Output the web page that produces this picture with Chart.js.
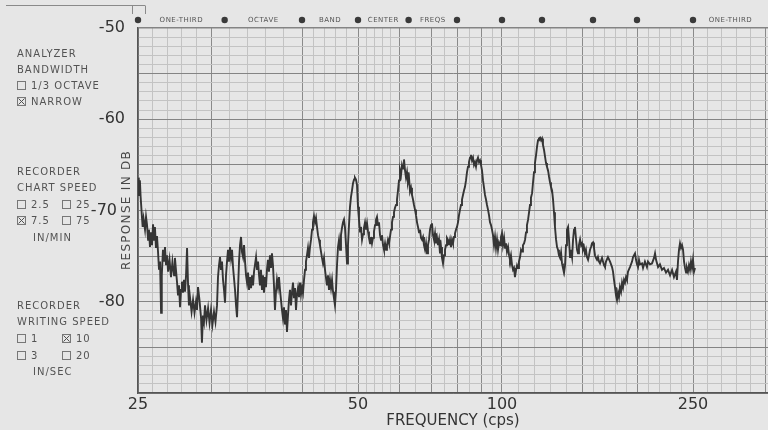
<!DOCTYPE html>
<html><head><meta charset="utf-8">
<script src="https://cdn.jsdelivr.net/npm/chart.js@4/dist/chart.umd.min.js"></script>
<style>html,body{margin:0;padding:0;background:#e6e6e6;overflow:hidden}</style>
</head><body>
<canvas id="c" width="768" height="430"></canvas>
<script>
// ---- data ----
const FREQ_CPS = [25.0,25.05,25.09,25.13,25.18,25.27,25.32,25.38,25.48,25.55,25.62,25.69,25.75,25.82,25.89,25.96,26.03,26.10,26.16,26.23,26.30,26.37,26.44,26.51,26.58,26.63,26.71,26.78,26.85,26.92,26.99,27.06,27.16,27.26,27.36,27.47,27.53,27.60,27.67,27.74,27.81,27.88,27.95,28.01,28.08,28.15,28.22,28.29,28.36,28.43,28.49,28.56,28.67,28.77,28.87,28.97,29.04,29.11,29.21,29.32,29.38,29.45,29.52,29.59,29.69,29.80,29.90,30.00,30.16,30.33,30.49,30.66,30.77,30.88,30.99,31.10,31.21,31.32,31.43,31.54,31.65,31.76,31.87,31.98,32.09,32.20,32.31,32.42,32.64,32.75,32.86,32.97,33.08,33.19,33.30,33.41,33.52,33.63,33.74,33.85,33.96,34.07,34.18,34.29,34.40,34.51,34.62,34.73,34.84,34.95,35.06,35.17,35.28,35.38,35.49,35.60,35.71,35.82,35.93,36.04,36.15,36.26,36.37,36.48,36.59,36.70,36.81,36.92,37.03,37.14,37.25,37.36,37.47,37.58,37.69,37.80,37.91,38.02,38.13,38.24,38.35,38.46,38.57,38.68,38.79,38.90,39.01,39.12,39.23,39.34,39.45,39.56,39.67,39.78,39.89,40.00,40.18,40.36,40.54,40.71,40.89,41.07,41.25,41.43,41.61,41.79,41.96,42.14,42.32,42.50,42.68,42.86,43.04,43.21,43.39,43.57,43.75,43.93,44.11,44.29,44.46,44.64,44.82,45.00,45.18,45.36,45.54,45.71,45.89,46.07,46.25,46.43,46.61,46.79,46.96,47.14,47.32,47.50,47.68,47.86,48.04,48.21,48.39,48.57,48.75,48.93,49.11,49.29,49.46,49.64,49.82,50.00,50.24,50.49,50.73,50.98,51.22,51.46,51.71,51.95,52.20,52.44,52.68,52.93,53.17,53.41,53.66,53.90,54.15,54.39,54.63,54.88,55.12,55.37,55.61,55.85,56.10,56.34,56.59,56.83,57.07,57.32,57.56,57.80,58.05,58.29,58.54,58.78,59.02,59.27,59.51,59.76,60.00,60.31,60.63,60.94,61.25,61.56,61.88,62.19,62.50,62.81,63.13,63.44,63.75,64.06,64.38,64.69,65.00,65.31,65.63,65.94,66.25,66.56,66.88,67.19,67.50,67.81,68.13,68.44,68.75,69.06,69.38,69.69,70.00,70.38,70.77,71.15,71.54,71.92,72.31,72.69,73.08,73.46,73.85,74.23,74.62,75.00,75.38,75.77,76.15,76.54,76.92,77.31,77.69,78.08,78.46,78.85,79.23,79.62,80.00,80.40,80.80,81.20,81.60,82.00,82.40,82.80,83.20,83.60,84.00,84.40,84.80,85.20,85.60,86.00,86.40,86.80,87.20,87.60,88.00,88.40,88.80,89.20,89.60,90.00,90.50,91.00,91.50,92.00,92.50,93.00,93.50,94.00,94.50,95.00,95.50,96.00,96.50,97.00,97.50,98.00,98.50,99.00,99.50,100.0,100.6,101.3,101.9,102.5,103.1,103.8,104.4,105.0,105.6,106.3,106.9,107.5,108.1,108.8,109.4,110.0,110.6,111.3,111.9,112.5,113.1,113.8,114.4,115.0,115.6,116.3,116.9,117.5,118.1,118.8,119.4,120.0,120.6,121.3,121.9,122.5,123.1,123.8,124.4,125.0,125.6,126.3,126.9,127.5,128.1,128.8,129.4,130.0,130.6,131.3,131.9,132.5,133.1,133.8,134.4,135.0,135.6,136.3,136.9,137.5,138.1,138.8,139.4,140.0,140.6,141.3,141.9,142.5,143.1,143.8,144.4,145.0,145.6,146.3,146.9,147.5,148.1,148.8,149.4,150.0,150.9,151.8,152.7,153.6,154.5,155.5,156.4,157.3,158.2,159.1,160.0,160.9,161.8,162.7,163.6,164.5,165.5,166.4,168.2,170.0,170.9,171.8,173.6,175.5,177.3,178.2,179.1,180.0,180.9,181.8,182.7,183.6,184.5,185.5,186.4,187.3,188.2,189.1,190.0,190.9,191.8,193.6,195.5,196.4,198.2,199.1,200.0,200.9,201.8,202.7,204.5,205.4,207.1,208.9,209.8,211.6,213.4,215.2,216.1,217.0,218.8,220.5,222.3,224.1,225.9,227.7,229.5,231.3,233.0,234.8,235.7,236.6,237.5,238.4,239.3,240.2,241.1,242.0,242.9,243.8,244.6,245.5,246.4,247.3,248.2,249.1,250.0,250.7,251.4];
const RESPONSE_DB = [-68.3,-66.4,-68.0,-66.7,-68.5,-70.7,-71.8,-70.9,-72.1,-70.7,
-71.6,-73.2,-72.1,-74.0,-72.4,-73.8,-71.5,-73.2,-71.8,-74.1,
-72.8,-74.5,-76.5,-75.6,-81.2,-77.1,-74.3,-75.6,-74.0,-76.0,
-74.9,-76.7,-75.4,-77.3,-75.6,-77.1,-75.2,-76.5,-77.8,-79.3,
-78.2,-80.6,-78.7,-77.8,-79.0,-77.6,-78.9,-77.1,-74.1,-78.2,
-80.4,-79.5,-81.1,-79.8,-81.2,-80.0,-80.9,-78.4,-79.8,-81.8,
-84.5,-81.5,-82.2,-80.4,-82.0,-80.7,-82.3,-80.9,-82.5,-81.1,
-82.2,-80.4,-77.3,-76.0,-75.1,-76.5,-75.6,-77.6,-78.7,-80.1,
-77.1,-75.6,-74.3,-75.6,-74.0,-75.2,-74.3,-76.2,-78.7,-80.4,
-81.7,-78.7,-75.6,-73.8,-72.9,-74.6,-75.1,-73.8,-75.6,-77.1,
-77.9,-76.8,-78.7,-77.3,-78.5,-77.1,-78.2,-76.7,-75.9,-75.1,
-76.5,-75.6,-77.1,-78.2,-76.5,-78.7,-77.1,-79.0,-77.3,-78.4,
-76.5,-75.4,-76.7,-74.9,-76.3,-74.7,-76.0,-78.2,-80.9,-78.9,
-77.6,-78.4,-77.3,-78.7,-79.8,-80.9,-81.8,-80.6,-82.5,-80.9,
-83.3,-81.5,-79.8,-78.7,-80.4,-79.0,-77.9,-79.6,-78.5,-80.9,
-79.2,-78.5,-79.5,-77.9,-79.2,-78.4,-79.0,-77.6,-76.5,-75.6,
-74.9,-74.1,-75.2,-74.0,-73.2,-72.1,-71.3,-70.6,-71.3,-70.8,
-71.8,-72.7,-73.2,-73.8,-74.5,-75.2,-75.8,-75.2,-76.5,-77.4,
-78.2,-77.1,-78.7,-77.6,-78.5,-77.6,-78.9,-79.6,-80.4,-78.7,
-76.0,-74.0,-73.2,-74.3,-72.7,-71.9,-71.3,-71.0,-71.9,-73.8,
-75.8,-73.8,-71.6,-69.6,-68.5,-67.8,-67.0,-66.6,-66.4,-66.6,
-67.2,-69.6,-71.0,-72.3,-71.8,-73.2,-72.6,-71.9,-71.3,-72.1,
-71.4,-72.3,-73.0,-73.6,-72.9,-73.6,-73.0,-72.3,-71.6,-71.0,
-70.7,-71.6,-71.3,-72.7,-73.2,-72.7,-73.8,-74.3,-73.6,-74.3,
-73.8,-73.2,-73.6,-72.9,-72.1,-71.3,-70.7,-70.2,-69.7,-69.4,
-68.8,-67.8,-66.7,-65.6,-66.1,-65.0,-65.4,-64.4,-65.6,-66.4,
-65.8,-66.9,-66.4,-67.9,-67.5,-68.3,-68.8,-69.4,-69.9,-70.5,
-71.3,-71.8,-72.4,-72.1,-73.0,-73.2,-72.9,-73.8,-74.3,-73.6,
-74.7,-73.8,-73.2,-72.1,-71.6,-71.4,-72.7,-73.2,-72.5,-73.6,
-73.0,-73.8,-73.2,-74.7,-74.0,-75.2,-75.8,-74.9,-74.3,-73.8,
-73.0,-73.2,-73.8,-73.2,-74.0,-73.2,-73.6,-72.9,-72.5,-72.1,
-71.8,-71.3,-70.5,-69.9,-69.4,-68.8,-68.3,-67.8,-67.4,-66.7,
-65.8,-65.2,-64.7,-64.2,-63.9,-64.5,-64.2,-65.0,-64.7,-65.2,
-64.5,-64.2,-64.7,-64.5,-65.0,-65.6,-66.7,-67.5,-68.3,-68.8,
-69.4,-69.9,-70.5,-71.3,-71.6,-72.1,-72.7,-73.8,-72.9,-74.1,
-73.2,-74.3,-73.5,-73.8,-72.9,-72.5,-73.8,-73.0,-74.1,-73.6,
-74.5,-74.0,-74.9,-75.4,-74.9,-76.0,-76.5,-76.3,-77.3,-76.5,
-76.0,-76.3,-75.6,-75.1,-74.3,-74.5,-73.8,-73.6,-73.2,-72.4,
-71.6,-71.0,-70.2,-69.4,-68.6,-68.1,-66.9,-65.8,-64.8,-63.9,
-63.0,-62.3,-62.1,-62.0,-62.3,-62.1,-62.8,-63.4,-64.1,-64.8,
-65.2,-65.6,-66.3,-66.9,-67.4,-67.8,-68.8,-70.2,-71.8,-73.2,
-74.0,-74.3,-74.9,-75.2,-74.6,-75.8,-76.3,-76.8,-76.0,-73.8,
-72.1,-71.8,-73.2,-75.1,-74.3,-75.1,-73.2,-72.1,-71.8,-73.2,
-74.3,-74.7,-73.8,-73.2,-73.8,-73.6,-74.3,-74.0,-74.7,-74.3,
-75.1,-75.4,-74.9,-74.3,-74.0,-73.6,-73.5,-74.1,-74.9,-75.2,
-75.4,-75.1,-75.6,-75.8,-75.2,-76.0,-76.2,-75.6,-75.1,-75.6,
-76.2,-76.7,-77.6,-78.4,-79.3,-79.8,-79.0,-79.5,-78.4,-78.9,
-77.9,-78.4,-77.6,-77.9,-77.3,-77.6,-76.7,-76.2,-75.6,-75.1,
-74.7,-75.4,-75.9,-76.2,-75.4,-75.9,-75.8,-76.3,-75.6,-76.2,
-75.6,-75.9,-75.8,-75.2,-74.7,-75.4,-76.2,-75.9,-76.5,-76.3,
-76.8,-76.5,-77.1,-76.5,-77.3,-76.7,-77.6,-75.6,-74.3,-73.6,
-74.1,-73.8,-74.3,-75.6,-76.3,-76.8,-76.3,-76.7,-76.0,-76.5,
-75.6,-76.3,-75.4,-76.7,-76.3];

const X_TICK_LABELS = [25, 50, 100, 250];
const X_MAJOR_LINES = [25, 30, 40, 50, 60, 70, 80, 90, 100, 150, 200, 250, 300];
const X_MINOR_LINES = [26, 27, 28, 29, 32, 34, 36, 38, 42, 44, 46, 48, 52, 54, 56, 58, 65, 75, 85, 95,
  110, 120, 130, 140, 160, 170, 180, 190, 210, 220, 230, 240, 260, 270, 280, 290];
const Y_TICK_LABELS = [-50, -60, -70, -80];
const BAND_CENTERS = [25, 31.5, 40, 50, 63, 80, 100, 125, 160, 200, 250];
const HEADER_WORDS = ['ONE-THIRD', 'OCTAVE', 'BAND', 'CENTER', 'FREQS'];

// recorder paper frequency calibration (frequency -> fraction of chart width)
const CAL_FREQ = [25, 30, 40, 50, 60, 70, 80, 90, 100, 150, 200, 250, 300, 302];
const CAL_FRAC = [0, 73, 164, 220, 261, 293, 319, 344, 364, 444, 499, 555, 627, 630].map(p => p / 630);

function freqToFrac(v) {
  let i = 0;
  while (i < CAL_FREQ.length - 2 && v > CAL_FREQ[i + 1]) i++;
  const f0 = CAL_FREQ[i], f1 = CAL_FREQ[i + 1];
  return CAL_FRAC[i] + (v - f0) / (f1 - f0) * (CAL_FRAC[i + 1] - CAL_FRAC[i]);
}
function fracToFreq(d) {
  let i = 0;
  while (i < CAL_FRAC.length - 2 && d > CAL_FRAC[i + 1]) i++;
  const d0 = CAL_FRAC[i], d1 = CAL_FRAC[i + 1];
  return CAL_FREQ[i] + (d - d0) / (d1 - d0) * (CAL_FREQ[i + 1] - CAL_FREQ[i]);
}

class RecorderFreqScale extends Chart.LinearScale {
  getPixelForValue(v) { return this.getPixelForDecimal(freqToFrac(v)); }
  getValueForPixel(p) { return fracToFreq(this.getDecimalForPixel(p)); }
}
RecorderFreqScale.id = 'recorderFreq';
RecorderFreqScale.defaults = {};
Chart.register(RecorderFreqScale);

const X_GRID = [...X_MAJOR_LINES, ...X_MINOR_LINES].sort((a, b) => a - b);

const INK = '#535353';
function drawBox(ctx, x, y, checked) {
  ctx.save();
  ctx.strokeStyle = '#777';
  ctx.lineWidth = 1;
  ctx.strokeRect(x + 0.5, y - 4.5, 8, 8);
  if (checked) {
    ctx.strokeStyle = '#505050';
    ctx.beginPath();
    ctx.moveTo(x + 1.5, y - 3.5); ctx.lineTo(x + 7.5, y + 2.5);
    ctx.moveTo(x + 7.5, y - 3.5); ctx.lineTo(x + 1.5, y + 2.5);
    ctx.stroke();
  }
  ctx.restore();
}

const paperPlugin = {
  id: 'paper',
  beforeDraw(chart) {
    const ctx = chart.ctx;
    ctx.save();
    ctx.fillStyle = '#e6e6e6';
    ctx.fillRect(0, 0, chart.width, chart.height);
    ctx.restore();
  },
  afterDraw(chart) {
    const ctx = chart.ctx, xs = chart.scales.x, area = chart.chartArea;
    ctx.save();
    // top-left frame mark
    ctx.strokeStyle = '#8a8a8a'; ctx.lineWidth = 1;
    ctx.beginPath();
    ctx.moveTo(6, 5.5); ctx.lineTo(145, 5.5);
    ctx.moveTo(132.5, 5.5); ctx.lineTo(132.5, 14);
    ctx.moveTo(145.5, 5.5); ctx.lineTo(145.5, 14);
    ctx.stroke();

    // header: one-third octave band center dots
    ctx.fillStyle = '#3a3a3a';
    BAND_CENTERS.forEach(f => {
      const px = xs.getPixelForValue(f);
      ctx.beginPath(); ctx.arc(px, 20, 3.2, 0, Math.PI * 2); ctx.fill();
    });
    ctx.fillStyle = '#555';
    ctx.font = '7px "DejaVu Sans"';
    ctx.letterSpacing = '0.5px';
    ctx.textAlign = 'center'; ctx.textBaseline = 'middle';
    HEADER_WORDS.forEach((w, i) => {
      const a = xs.getPixelForValue(BAND_CENTERS[i]), b = xs.getPixelForValue(BAND_CENTERS[i + 1]);
      ctx.fillText(w, (a + b) / 2, 20);
    });
    ctx.fillText('ONE-THIRD', (xs.getPixelForValue(250) + area.right) / 2, 20);

    // y-axis title
    ctx.save();
    ctx.translate(127, 210);
    ctx.rotate(-Math.PI / 2);
    ctx.fillStyle = '#474747';
    ctx.font = '12px "DejaVu Sans"';
    ctx.letterSpacing = '1.3px';
    ctx.textAlign = 'center'; ctx.textBaseline = 'middle';
    ctx.fillText('RESPONSE IN DB', 0, 0);
    ctx.restore();

    // left panel
    ctx.fillStyle = INK;
    ctx.font = '10px "DejaVu Sans"';
    ctx.letterSpacing = '1px';
    ctx.textAlign = 'left'; ctx.textBaseline = 'middle';
    const t = (s, x, y) => ctx.fillText(s, x, y);
    t('ANALYZER', 17, 54);
    t('BANDWIDTH', 17, 70);
    drawBox(ctx, 17, 86, false); t('1/3 OCTAVE', 31, 86);
    drawBox(ctx, 17, 102, true); t('NARROW', 31, 102);
    t('RECORDER', 17, 172);
    t('CHART SPEED', 17, 188);
    drawBox(ctx, 17, 205, false); t('2.5', 31, 205);
    drawBox(ctx, 62, 205, false); t('25', 76, 205);
    drawBox(ctx, 17, 221, true); t('7.5', 31, 221);
    drawBox(ctx, 62, 221, false); t('75', 76, 221);
    t('IN/MIN', 33, 238);
    t('RECORDER', 17, 306);
    t('WRITING SPEED', 17, 322);
    drawBox(ctx, 17, 339, false); t('1', 31, 339);
    drawBox(ctx, 62, 339, true); t('10', 76, 339);
    drawBox(ctx, 17, 356, false); t('3', 31, 356);
    drawBox(ctx, 62, 356, false); t('20', 76, 356);
    t('IN/SEC', 33, 372);
    ctx.restore();
  }
};

const points = FREQ_CPS.map((f, i) => ({ x: f, y: RESPONSE_DB[i] })).filter(p => p.y !== undefined);

new Chart(document.getElementById('c'), {
  type: 'line',
  data: {
    datasets: [{
      label: 'Response',
      data: points,
      borderColor: '#353535',
      borderWidth: 1.9,
      pointRadius: 0,
      tension: 0,
      fill: false
    }]
  },
  options: {
    responsive: false,
    animation: false,
    devicePixelRatio: 1,
    layout: { padding: { top: 28, left: 0, right: 0, bottom: 0 } },
    plugins: { legend: { display: false }, tooltip: { enabled: false } },
    scales: {
      x: {
        type: 'recorderFreq',
        min: 25, max: 302,
        afterBuildTicks: s => { s.ticks = X_GRID.map(v => ({ value: v })); },
        afterFit: s => { s.height = 37; },
        ticks: {
          autoSkip: false, maxRotation: 0, minRotation: 0, padding: 2,
          color: '#333', font: { family: 'DejaVu Sans', size: 16 },
          callback: v => X_TICK_LABELS.includes(v) ? String(v) : ''
        },
        grid: {
          drawTicks: false,
          color: c => (c.tick && X_MAJOR_LINES.includes(c.tick.value)) ? '#8a8a8a' : '#c3c3c3',
          lineWidth: 1
        },
        border: { display: true, color: '#555', width: 1.5 },
        title: {
          display: true, text: 'FREQUENCY (cps)', color: '#333',
          font: { family: 'DejaVu Sans', size: 15 }, padding: { top: 0, bottom: 0 }
        }
      },
      y: {
        min: -90, max: -50,
        afterBuildTicks: s => { const tk = []; for (let v = -90; v <= -50; v++) tk.push({ value: v }); s.ticks = tk; },
        afterFit: s => { s.width = 138; },
        ticks: {
          autoSkip: false, padding: 13,
          color: '#333', font: { family: 'DejaVu Sans', size: 16 },
          callback: v => Y_TICK_LABELS.includes(v) ? (v === -70 ? '-70\u2002' : String(v)) : ''
        },
        grid: {
          drawTicks: false,
          color: c => (c.tick && c.tick.value % 5 === 0) ? '#848484' : '#c3c3c3',
          lineWidth: c => (c.tick && c.tick.value === -50) ? 1.6 : 1
        },
        border: { display: true, color: '#555', width: 1.5 }
      }
    }
  },
  plugins: [paperPlugin]
});
</script>
</body></html>
